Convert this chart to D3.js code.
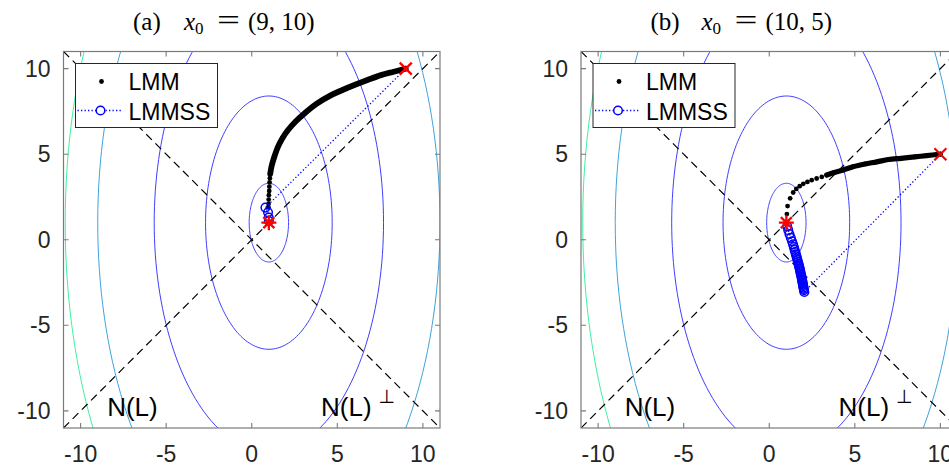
<!DOCTYPE html>
<html>
<head>
<meta charset="utf-8">
<script src="https://cdn.jsdelivr.net/npm/d3@7"></script>
<style>
  body { margin: 0; background: #fff; }
  svg { display: block; }
</style>
</head>
<body>
<div id="chart"></div>
<script>
// ---- datos ----
const tickValues = [-10, -5, 0, 5, 10];
const axisDomain = [-11, 11];

// curvas de nivel: semieje horizontal (el vertical es el doble), centradas en la solución
const contourSemiAxes = [1.15, 3.7, 6.7, 10.0, 11.9];
const contourColors = ["#3f3fff", "#3f3fff", "#3f3fff", "#3fa3dc", "#3ff0a0"];
const solution = [1, 1];

// (a) x0 = (9, 10)
const x0A = [9, 10];
const lmmTrailA = [
  [9, 10], [8.3, 9.82], [7.55, 9.62], [6.8, 9.35], [6.0, 9.04], [5.3, 8.75],
  [4.64, 8.45], [3.8, 7.95], [3.08, 7.38], [2.55, 6.9], [2.11, 6.4], [1.8, 5.95],
  [1.53, 5.43], [1.32, 4.85], [1.15, 4.26], [1.08, 3.85]
];
const lmmDotsA = [
  [1.06, 3.6], [1.04, 3.35], [1.03, 3.1], [1.02, 2.85], [1.0, 2.6], [0.99, 2.35],
  [0.98, 2.1], [0.97, 1.9]
];
const lmmssA = [[9, 10], [0.8, 1.88], [0.95, 1.6], [0.99, 1.3], [1, 1.1]];

// (b) x0 = (10, 5)
const x0B = [10, 5];
const lmmTrailB = [
  [10, 5], [9.2, 4.92], [8.5, 4.84], [7.7, 4.76], [6.97, 4.69], [6.29, 4.55],
  [5.6, 4.43], [4.9, 4.27], [4.33, 4.08], [3.8, 3.93], [3.36, 3.78]
];
const lmmDotsB = [
  [3.07, 3.67], [2.77, 3.58], [2.48, 3.48], [2.23, 3.38], [1.99, 3.27], [1.78, 3.13],
  [1.58, 2.97], [1.4, 2.76], [1.22, 2.42], [1.07, 1.97], [1.03, 1.5]
];
const lmmssB = [
  [10, 5], [2.05, -3.05], [2.03, -2.95], [2.02, -2.88], [2.0, -2.8], [1.99, -2.72],
  [1.97, -2.64], [1.96, -2.56], [1.94, -2.48], [1.93, -2.4], [1.91, -2.32], [1.9, -2.24],
  [1.88, -2.15], [1.86, -2.06], [1.84, -1.97], [1.82, -1.88], [1.8, -1.79], [1.78, -1.7],
  [1.76, -1.6], [1.73, -1.5], [1.71, -1.4], [1.68, -1.3], [1.65, -1.19], [1.62, -1.08],
  [1.59, -0.97], [1.56, -0.85], [1.52, -0.72], [1.48, -0.58], [1.44, -0.43], [1.39, -0.27],
  [1.33, -0.09], [1.26, 0.11], [1.18, 0.33], [1.11, 0.56], [1.05, 0.78]
];

const legendLabels = ["LMM", "LMMSS"];
const subspaceLabels = ["N(L)", "N(L)"];
const subspaceLabelPos = [[-8.45, -9.75], [4.05, -9.75]];

// ---- dibujo ----
const W = 949, H = 466;
const svg = d3.select("#chart").append("svg")
  .attr("width", W).attr("height", H);

const tickFont = "'Liberation Sans', Arial, Helvetica, sans-serif";
const serif = "'Liberation Serif', 'Times New Roman', serif";

function drawPanel(opt) {
  const left = opt.left, top = 51.5, size = 376.5;
  const x = d3.scaleLinear().domain(axisDomain).range([left, left + size]);
  const y = d3.scaleLinear().domain(axisDomain).range([top + size, top]);

  const g = svg.append("g");
  const clipId = "clip-" + opt.id;
  g.append("clipPath").attr("id", clipId)
    .append("rect").attr("x", left).attr("y", top).attr("width", size).attr("height", size);

  const plot = g.append("g").attr("clip-path", `url(#${clipId})`);

  // curvas de nivel (elipses)
  const angles = d3.range(0, 2 * Math.PI + 0.001, Math.PI / 90);
  const line = d3.line().x(d => x(d[0])).y(d => y(d[1]));
  contourSemiAxes.forEach((a, i) => {
    const pts = angles.map(t => [solution[0] + a * Math.cos(t), solution[1] + 2 * a * Math.sin(t)]);
    plot.append("path")
      .attr("d", line(pts))
      .attr("fill", "none")
      .attr("stroke", contourColors[i])
      .attr("stroke-width", 1);
  });

  // N(L) y N(L)^perp (rectas y = x, y = -x)
  [[[-11, -11], [11, 11]], [[-11, 11], [11, -11]]].forEach(seg => {
    plot.append("path")
      .attr("d", line(seg))
      .attr("fill", "none")
      .attr("stroke", "#000")
      .attr("stroke-width", 1.2)
      .attr("stroke-dasharray", "8,5");
  });

  // LMM: traza densa + puntos sueltos
  plot.append("path")
    .attr("d", d3.line().curve(d3.curveCatmullRom).x(d => x(d[0])).y(d => y(d[1]))(opt.lmmTrail))
    .attr("fill", "none")
    .attr("stroke", "#000")
    .attr("stroke-width", opt.trailWidth)
    .attr("stroke-linecap", "round")
    .attr("stroke-linejoin", "round");
  plot.selectAll(".lmm-dot")
    .data(opt.lmmTrail.concat(opt.lmmDots))
    .enter().append("circle")
    .attr("cx", d => x(d[0])).attr("cy", d => y(d[1]))
    .attr("r", 2.4).attr("fill", "#000");

  // LMMSS: línea punteada + círculos
  plot.append("path")
    .attr("d", line(opt.lmmss))
    .attr("fill", "none")
    .attr("stroke", "#0000ff")
    .attr("stroke-width", 1.3)
    .attr("stroke-dasharray", "1.3,2.2");
  plot.selectAll(".lmmss-dot")
    .data(opt.lmmss.slice(1))
    .enter().append("circle")
    .attr("cx", d => x(d[0])).attr("cy", d => y(d[1]))
    .attr("r", 4.3)
    .attr("fill", "none")
    .attr("stroke", "#0000ff")
    .attr("stroke-width", 1.5);

  // punto inicial (x rojo)
  const px = x(opt.x0[0]), py = y(opt.x0[1]);
  plot.append("path")
    .attr("d", `M${px - 6},${py - 6}L${px + 6},${py + 6}M${px - 6},${py + 6}L${px + 6},${py - 6}`)
    .attr("stroke", "#ff0000").attr("stroke-width", 2.2).attr("fill", "none");

  // solución (asterisco rojo)
  const sx = x(solution[0]), sy = y(solution[1]);
  const r = 7.5, rd = 5.5;
  plot.append("path")
    .attr("d", `M${sx - r},${sy}L${sx + r},${sy}M${sx},${sy - r}L${sx},${sy + r}` +
      `M${sx - rd},${sy - rd}L${sx + rd},${sy + rd}M${sx - rd},${sy + rd}L${sx + rd},${sy - rd}`)
    .attr("stroke", "#ff0000").attr("stroke-width", 2.3).attr("fill", "none");

  // etiquetas N(L)
  subspaceLabels.forEach((lab, i) => {
    const t = g.append("text")
      .attr("x", x(subspaceLabelPos[i][0]))
      .attr("y", y(subspaceLabelPos[i][1]) + 9)
      .attr("font-family", tickFont)
      .attr("font-size", 26)
      .attr("fill", "#000")
      .text(lab);
    if (i === 1) {
      const w = t.node().getComputedTextLength();
      g.append("text")
        .attr("x", x(subspaceLabelPos[i][0]) + w + 7)
        .attr("y", y(subspaceLabelPos[i][1]) - 4)
        .attr("font-family", "'DejaVu Sans', sans-serif")
        .attr("font-size", 19)
        .attr("fill", "#000")
        .text("⊥");
    }
  });

  // caja de ejes con marcas en los cuatro lados
  g.append("rect")
    .attr("x", left).attr("y", top).attr("width", size).attr("height", size)
    .attr("fill", "none").attr("stroke", "#7a7a7a").attr("stroke-width", 1.2);
  const tl = 5;
  tickValues.forEach(v => {
    const tx = x(v), ty = y(v);
    g.append("path")
      .attr("d", `M${tx},${top + size}V${top + size - tl}M${tx},${top}V${top + tl}` +
        `M${left},${ty}H${left + tl}M${left + size},${ty}H${left + size - tl}`)
      .attr("stroke", "#7a7a7a").attr("stroke-width", 1.1);
  });

  // etiquetas de los ejes
  g.selectAll(".xtick").data(tickValues).enter().append("text")
    .attr("x", d => x(d)).attr("y", 462)
    .attr("text-anchor", "middle")
    .attr("font-family", tickFont).attr("font-size", 23).attr("fill", "#262626")
    .text(d => d);
  g.selectAll(".ytick").data(tickValues).enter().append("text")
    .attr("x", left - 13).attr("y", d => y(d) + 8)
    .attr("text-anchor", "end")
    .attr("font-family", tickFont).attr("font-size", 23).attr("fill", "#262626")
    .text(d => d);

  // leyenda
  const lx = left + 12, ly = top + 12;
  g.append("rect")
    .attr("x", lx).attr("y", ly).attr("width", 142).attr("height", 64)
    .attr("fill", "#fff").attr("stroke", "#262626").attr("stroke-width", 1);
  g.append("circle")
    .attr("cx", lx + 26).attr("cy", ly + 18).attr("r", 2.4).attr("fill", "#000");
  g.append("line")
    .attr("x1", lx + 2).attr("x2", lx + 46).attr("y1", ly + 47).attr("y2", ly + 47)
    .attr("stroke", "#0000ff").attr("stroke-width", 1.3).attr("stroke-dasharray", "1.3,2.2");
  g.append("circle")
    .attr("cx", lx + 25).attr("cy", ly + 47).attr("r", 4.3)
    .attr("fill", "#fff").attr("stroke", "#0000ff").attr("stroke-width", 1.5);
  legendLabels.forEach((lab, i) => {
    g.append("text")
      .attr("x", lx + 53).attr("y", ly + 26 + i * 30)
      .attr("font-family", tickFont).attr("font-size", 23).attr("fill", "#000")
      .text(lab);
  });

  // título estilo LaTeX
  const ty = 30;
  const title = svg.append("g").attr("font-family", serif).attr("font-size", 25).attr("fill", "#000");
  title.append("text").attr("x", left + 69.5).attr("y", ty).text(opt.label);
  const xt = title.append("text").attr("x", left + 120.5).attr("y", ty);
  xt.append("tspan").attr("font-style", "italic").text("x");
  xt.append("tspan").attr("font-size", 17).attr("dy", 4).text("0");
  title.append("text").attr("x", left + 153.5).attr("y", ty).attr("font-size", 30)
    .attr("textLength", 23).attr("lengthAdjust", "spacingAndGlyphs").text("=");
  title.append("text").attr("x", left + 184.5).attr("y", ty).text(opt.x0Text);
}

drawPanel({
  id: "a", left: 63.5, label: "(a)", x0Text: "(9, 10)", trailWidth: 5.8,
  x0: x0A, lmmTrail: lmmTrailA, lmmDots: lmmDotsA, lmmss: lmmssA
});
drawPanel({
  id: "b", left: 581, label: "(b)", x0Text: "(10, 5)", trailWidth: 5.2,
  x0: x0B, lmmTrail: lmmTrailB, lmmDots: lmmDotsB, lmmss: lmmssB
});
</script>
</body>
</html>
